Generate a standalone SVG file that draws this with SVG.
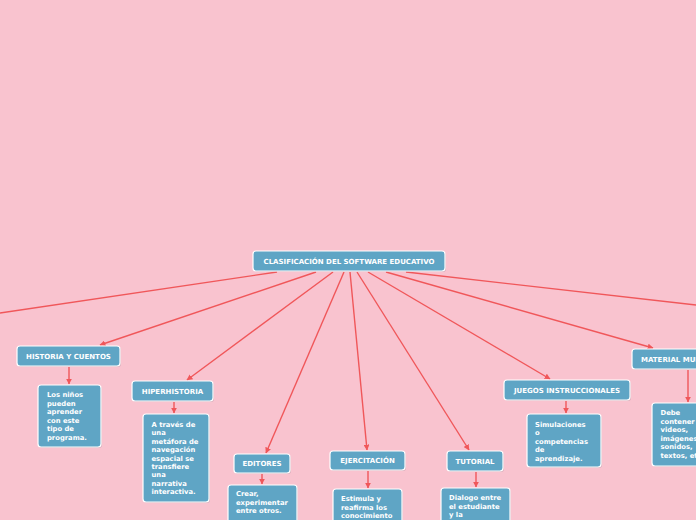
<svg xmlns="http://www.w3.org/2000/svg" width="696" height="520" viewBox="0 0 696 520">
<defs>
<marker id="arr" viewBox="0 0 10 10" refX="9" refY="5" markerWidth="6" markerHeight="6" markerUnits="userSpaceOnUse" orient="auto">
<path d="M0,0 L10,5 L0,10 z" fill="#f0575a"/>
</marker>
<style>
.bg{fill:#f9c3cf}
.box{fill:#5fa5c5;stroke:#ffffff;stroke-width:1.2}
.sh{fill:#9a8a95;opacity:0.35}
.t{font-family:"DejaVu Sans",Verdana,sans-serif;font-weight:bold;font-size:6.8px;fill:#ffffff}
.h{font-size:7px}
.tc{text-anchor:middle}
.c{stroke:#f0575a;stroke-width:1.4;fill:none}
</style>
</defs>
<rect class="bg" x="0" y="0" width="696" height="520"/>
<g id="connectors">
<path class="c" d="M277,272 L0,313"/>
<path class="c" d="M316,272 L100,345" marker-end="url(#arr)"/>
<path class="c" d="M333,272 L187,380" marker-end="url(#arr)"/>
<path class="c" d="M344,272 L266,453" marker-end="url(#arr)"/>
<path class="c" d="M350,272 L367,450" marker-end="url(#arr)"/>
<path class="c" d="M357,272 L469,450" marker-end="url(#arr)"/>
<path class="c" d="M368,272 L550,379" marker-end="url(#arr)"/>
<path class="c" d="M386,272 L653,348" marker-end="url(#arr)"/>
<path class="c" d="M406,272 L696,305"/>
<path class="c" d="M69,367 L69,384" marker-end="url(#arr)"/>
<path class="c" d="M174,402 L174,413" marker-end="url(#arr)"/>
<path class="c" d="M262,474 L262,484" marker-end="url(#arr)"/>
<path class="c" d="M368,471 L368,488" marker-end="url(#arr)"/>
<path class="c" d="M476,472 L476,487" marker-end="url(#arr)"/>
<path class="c" d="M566,401 L566,413" marker-end="url(#arr)"/>
<path class="c" d="M688,370 L688,402" marker-end="url(#arr)"/>
</g>
<g id="root">
<rect class="sh" x="254" y="252" width="192" height="20" rx="3"/>
<rect class="box" x="253" y="251" width="192" height="20" rx="3"/>
<text class="t h tc" x="349" y="263.5">CLASIFICACIÓN DEL SOFTWARE EDUCATIVO</text>
</g>
<g id="historia">
<rect class="sh" x="18" y="347" width="103" height="20" rx="3"/>
<rect class="box" x="17" y="346" width="103" height="20" rx="3"/>
<text class="t h tc" x="68.5" y="358.5">HISTORIA Y CUENTOS</text>
</g>
<g id="historia-desc">
<rect class="sh" x="39" y="386" width="63" height="62" rx="3"/>
<rect class="box" x="38" y="385" width="63" height="62" rx="3"/>
<text class="t" x="47" y="397">Los niños<tspan x="47" dy="8.5">pueden</tspan><tspan x="47" dy="8.5">aprender</tspan><tspan x="47" dy="8.5">con este</tspan><tspan x="47" dy="8.5">tipo de</tspan><tspan x="47" dy="8.5">programa.</tspan></text>
</g>
<g id="hiperhistoria">
<rect class="sh" x="133" y="382" width="81" height="20" rx="3"/>
<rect class="box" x="132" y="381" width="81" height="20" rx="3"/>
<text class="t h tc" x="172.5" y="393.5">HIPERHISTORIA</text>
</g>
<g id="hiperhistoria-desc">
<rect class="sh" x="144" y="415" width="66" height="88" rx="3"/>
<rect class="box" x="143" y="414" width="66" height="88" rx="3"/>
<text class="t" x="151.5" y="427">A través de<tspan x="151.5" dy="8.4">una</tspan><tspan x="151.5" dy="8.4">metáfora de</tspan><tspan x="151.5" dy="8.4">navegación</tspan><tspan x="151.5" dy="8.4">espacial se</tspan><tspan x="151.5" dy="8.4">transfiere</tspan><tspan x="151.5" dy="8.4">una</tspan><tspan x="151.5" dy="8.4">narrativa</tspan><tspan x="151.5" dy="8.4">interactiva.</tspan></text>
</g>
<g id="editores">
<rect class="sh" x="235" y="455" width="56" height="19" rx="3"/>
<rect class="box" x="234" y="454" width="56" height="19" rx="3"/>
<text class="t h tc" x="262" y="466">EDITORES</text>
</g>
<g id="editores-desc">
<rect class="sh" x="229" y="486" width="69" height="40" rx="3"/>
<rect class="box" x="228" y="485" width="69" height="40" rx="3"/>
<text class="t" x="236" y="496">Crear,<tspan x="236" dy="8.5">experimentar</tspan><tspan x="236" dy="8.5">entre otros.</tspan></text>
</g>
<g id="ejercitacion">
<rect class="sh" x="331" y="452" width="75" height="19" rx="3"/>
<rect class="box" x="330" y="451" width="75" height="19" rx="3"/>
<text class="t h tc" x="367.5" y="463">EJERCITACIÓN</text>
</g>
<g id="ejercitacion-desc">
<rect class="sh" x="334" y="490" width="69" height="40" rx="3"/>
<rect class="box" x="333" y="489" width="69" height="40" rx="3"/>
<text class="t" x="341" y="501">Estimula y<tspan x="341" dy="8.5">reafirma los</tspan><tspan x="341" dy="8.5">conocimiento</tspan></text>
</g>
<g id="tutorial">
<rect class="sh" x="448" y="452" width="56" height="20" rx="3"/>
<rect class="box" x="447" y="451" width="56" height="20" rx="3"/>
<text class="t h tc" x="475" y="463.5">TUTORIAL</text>
</g>
<g id="tutorial-desc">
<rect class="sh" x="442" y="489" width="69" height="40" rx="3"/>
<rect class="box" x="441" y="488" width="69" height="40" rx="3"/>
<text class="t" x="449" y="500">Dialogo entre<tspan x="449" dy="8.5">el estudiante</tspan><tspan x="449" dy="8.5">y la</tspan></text>
</g>
<g id="juegos">
<rect class="sh" x="505" y="381" width="126" height="20" rx="3"/>
<rect class="box" x="504" y="380" width="126" height="20" rx="3"/>
<text class="t h tc" x="567" y="392.5">JUEGOS INSTRUCCIONALES</text>
</g>
<g id="juegos-desc">
<rect class="sh" x="528" y="415" width="74" height="53" rx="3"/>
<rect class="box" x="527" y="414" width="74" height="53" rx="3"/>
<text class="t" x="535" y="427">Simulaciones<tspan x="535" dy="8.4">o</tspan><tspan x="535" dy="8.4">competencias</tspan><tspan x="535" dy="8.4">de</tspan><tspan x="535" dy="8.4">aprendizaje.</tspan></text>
</g>
<g id="material">
<rect class="sh" x="633" y="350" width="120" height="20" rx="3"/>
<rect class="box" x="632" y="349" width="120" height="20" rx="3"/>
<text class="t h" x="641" y="361.5">MATERIAL MULTIMEDIA</text>
</g>
<g id="material-desc">
<rect class="sh" x="653" y="404" width="70" height="63" rx="3"/>
<rect class="box" x="652" y="403" width="70" height="63" rx="3"/>
<text class="t" x="660.5" y="415">Debe<tspan x="660.5" dy="8.5">contener</tspan><tspan x="660.5" dy="8.5">videos,</tspan><tspan x="660.5" dy="8.5">imágenes,</tspan><tspan x="660.5" dy="8.5">sonidos,</tspan><tspan x="660.5" dy="8.5">textos, etc</tspan></text>
</g>
</svg>
